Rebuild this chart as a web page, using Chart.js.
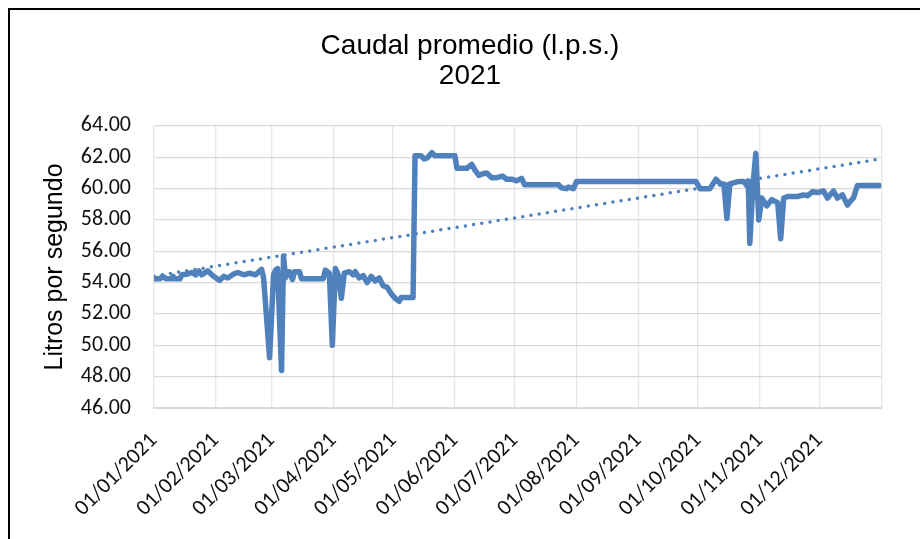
<!DOCTYPE html>
<html>
<head>
<meta charset="utf-8">
<script src="https://cdn.jsdelivr.net/npm/chart.js@4.4.0/dist/chart.umd.min.js"></script>
<style>
  html, body { margin: 0; padding: 0; background: #fff; overflow: hidden; }
  #caja { position: absolute; left: 0; top: 0; width: 920px; height: 539px; }
  #marco { position: absolute; left: 8px; top: 8px; width: 1000px; height: 1000px; border: 2px solid #000; pointer-events: none; }
</style>
</head>
<body>
<div id="caja"><canvas id="grafico" width="920" height="539"></canvas></div>
<div id="marco"></div>
<script>
var dia = [0, 3, 4.5, 6, 9, 9.5, 10.5, 13, 14, 17, 19, 21, 22.5, 24, 27, 29, 31, 33, 35, 37,
  40, 42, 45, 48, 51, 54, 55, 58, 60, 61, 62, 64, 65, 66, 67, 68, 69.5, 70.5, 73, 74,
  85, 86, 88, 89.5, 91, 92.5, 94, 95.5, 98, 100, 101, 103, 105, 107, 109, 111, 113, 115, 117, 119,
  121, 123, 124, 130, 131, 134, 135.5, 137, 139.5, 141, 151, 152, 157, 159.5, 161, 163, 165, 167, 169.5, 172,
  175, 177, 179.5, 182, 184.5, 186, 203, 204.5, 207, 208, 210.5, 212, 272, 274, 279, 282, 284.5, 286, 287.5, 289,
  293, 296, 297.5, 298.2, 299, 300.5, 302, 303.5, 305, 307.5, 310, 313, 314.5, 316, 318, 323, 326, 328, 330.5, 333,
  336, 338, 341, 343, 345.5, 348, 349.5, 351, 353, 364];
var caudal = [54.25, 54.25, 54.4, 54.25, 54.25, 54.4, 54.25, 54.25, 54.5, 54.55, 54.65, 54.5, 54.75, 54.5, 54.75, 54.5, 54.3, 54.15, 54.4, 54.3,
  54.55, 54.65, 54.5, 54.6, 54.5, 54.85, 54.3, 49.2, 54.5, 54.8, 54.9, 48.4, 55.7, 54.3, 54.7, 54.7, 54.2, 54.7, 54.7, 54.25,
  54.25, 54.8, 54.6, 50.0, 54.9, 54.5, 53.0, 54.6, 54.7, 54.5, 54.7, 54.3, 54.45, 54.0, 54.4, 54.1, 54.3, 53.8, 53.7, 53.3,
  53.0, 52.8, 53.05, 53.05, 62.1, 62.1, 61.9, 61.95, 62.3, 62.1, 62.1, 61.3, 61.3, 61.55, 61.2, 60.85, 60.95, 61.0, 60.7, 60.7,
  60.8, 60.6, 60.6, 60.5, 60.65, 60.25, 60.25, 60.05, 60.0, 60.1, 60.0, 60.45, 60.45, 60.0, 60.0, 60.6, 60.3, 60.3, 58.1, 60.3,
  60.45, 60.45, 60.2, 60.5, 56.5, 60.1, 62.25, 58.0, 59.4, 58.9, 59.3, 59.1, 56.8, 59.4, 59.5, 59.5, 59.6, 59.55, 59.8, 59.75,
  59.85, 59.4, 59.85, 59.4, 59.6, 58.95, 59.2, 59.4, 60.2, 60.2];

// linea de tendencia (lineal), extremos
var tendenciaDias = [0, 364];
var tendenciaValores = [54.42, 61.88];

// ejes
var diasMes = [0, 31, 59, 90, 120, 151, 181, 212, 243, 273, 304, 334, 365];
var etiquetasMes = ['01/01/2021', '01/02/2021', '01/03/2021', '01/04/2021', '01/05/2021', '01/06/2021',
  '01/07/2021', '01/08/2021', '01/09/2021', '01/10/2021', '01/11/2021', '01/12/2021', ''];
var yMin = 46, yMax = 64, yPaso = 2;

var azul = '#4F81BD';
var fuenteTicks = 'Carlito, Lato, sans-serif';
var fuenteTitulo = '"Liberation Sans", Arial, sans-serif';

var serie = dia.map(function(d, i) { return { x: d, y: caudal[i] }; });
var tendencia = tendenciaDias.map(function(d, i) { return { x: d, y: tendenciaValores[i] }; });

var ctx = document.getElementById('grafico');

var grafico = new Chart(ctx, {
  type: 'line',
  data: {
    datasets: [
      {
        label: 'Lineal',
        data: tendencia,
        borderColor: azul,
        borderWidth: 3.5,
        borderDash: [0, 8.3],
        borderCapStyle: 'round',
        pointRadius: 0,
        fill: false
      },
      {
        label: 'Caudal',
        data: serie,
        borderColor: azul,
        borderWidth: 5.5,
        borderJoinStyle: 'round',
        borderCapStyle: 'round',
        pointRadius: 0,
        tension: 0,
        fill: false
      }
    ]
  },
  options: {
    responsive: false,
    animation: false,
    layout: { padding: { left: 55, right: 35, top: 0, bottom: 0 } },
    plugins: {
      legend: { display: false },
      tooltip: { enabled: false },
      title: {
        display: true,
        text: ['Caudal promedio (l.p.s.)', '2021'],
        color: '#000',
        font: { family: fuenteTitulo, size: 28, weight: 'normal', lineHeight: 1.06 },
        padding: { top: 31.75, bottom: 34.85 }
      }
    },
    scales: {
      x: {
        type: 'linear',
        min: 0,
        max: 365,
        afterBuildTicks: function(axis) {
          axis.ticks = diasMes.map(function(v) { return { value: v }; });
        },
        afterFit: function(s) { s.height = 131; },
        ticks: {
          autoSkip: false,
          minRotation: 45,
          maxRotation: 45,
          padding: 20,
          color: '#111',
          font: { family: fuenteTicks, size: 22 },
          callback: function(v) {
            var i = diasMes.indexOf(v);
            return i >= 0 ? etiquetasMes[i] : '';
          }
        },
        grid: { color: '#e6e6e6', lineWidth: 1.3, drawTicks: false },
        border: { display: true, color: '#d9d9d9', width: 2 }
      },
      y: {
        min: yMin,
        max: yMax,
        afterFit: function(s) { s.width = 99; },
        ticks: {
          stepSize: yPaso,
          padding: 23,
          color: '#111',
          font: { family: fuenteTicks, size: 22 },
          callback: function(v) { return v.toFixed(2); }
        },
        grid: { color: '#d9d9d9', lineWidth: 1.3, drawTicks: false },
        border: { display: false },
        title: {
          display: true,
          text: 'Litros por segundo',
          color: '#000',
          font: { family: fuenteTitulo, size: 25, lineHeight: 1 },
          padding: { top: -12.5, bottom: 0 }
        }
      }
    }
  }
});
</script>
</body>
</html>
